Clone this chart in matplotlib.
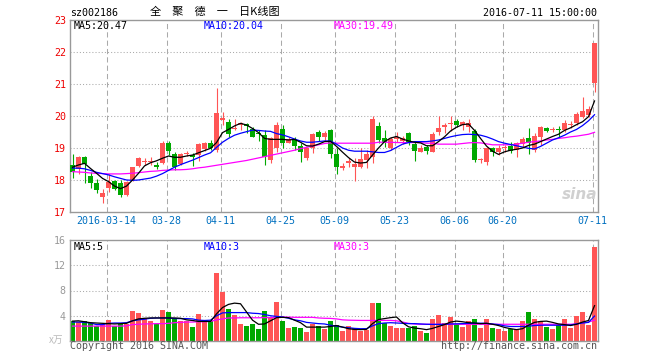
import matplotlib
matplotlib.use("Agg")
import matplotlib.pyplot as plt
import numpy as np
import pandas as pd

# Daily K-line of sz002186, 2016-03-04 .. 2016-07-11
HOLIDAYS = ["2016-04-04", "2016-05-02", "2016-06-09", "2016-06-10"]
TICK_DATES = ["2016-03-14", "2016-03-28", "2016-04-11", "2016-04-25", "2016-05-09",
              "2016-05-23", "2016-06-06", "2016-06-20", "2016-07-11"]

opens = [18.47, 18.33, 18.73, 18.13, 17.92, 17.46, 17.76, 17.98, 17.92, 17.53,
         18.00, 18.44, 18.56, 18.56, 18.47, 18.52, 19.15, 18.80, 18.49, 18.81,
         18.78, 18.78, 18.97, 19.16, 18.94, 19.87, 19.82, 19.60, 19.72, 19.74,
         19.58, 19.48, 19.41, 18.63, 18.99, 19.59, 19.17, 19.27, 19.06, 18.68,
         19.00, 19.51, 19.33, 19.56, 18.81, 18.39, 18.52, 18.42, 18.40, 18.63,
         18.71, 19.69, 19.30, 18.99, 19.27, 19.23, 19.48, 19.13, 18.89, 19.02,
         18.89, 19.51, 19.65, 19.74, 19.85, 19.72, 19.67, 19.53, 18.62, 18.57,
         18.99, 18.89, 19.00, 19.06, 18.94, 19.13, 19.30, 18.94, 19.35, 19.61,
         19.57, 19.59, 19.56, 19.72, 19.77, 19.96, 20.03, 21.04]
closes = [18.26, 18.73, 18.50, 17.92, 17.70, 17.58, 17.93, 17.71, 17.53, 17.93,
          18.40, 18.68, 18.59, 18.59, 18.40, 19.15, 18.92, 18.40, 18.80, 18.84,
          18.73, 19.11, 19.15, 18.99, 20.10, 19.93, 19.44, 19.64, 19.79, 19.70,
          19.35, 19.43, 18.71, 19.30, 19.72, 19.17, 19.27, 19.07, 18.89, 18.99,
          19.44, 19.35, 19.48, 18.81, 18.42, 18.41, 18.60, 18.50, 18.65, 18.81,
          19.90, 19.25, 19.20, 19.27, 19.33, 19.30, 19.15, 18.92, 18.99, 18.92,
          19.44, 19.61, 19.72, 19.77, 19.72, 19.82, 19.77, 18.63, 18.65, 18.99,
          18.86, 19.01, 19.02, 18.92, 19.15, 19.28, 19.15, 19.38, 19.66, 19.54,
          19.59, 19.57, 19.77, 19.75, 20.06, 20.15, 20.22, 22.27]
highs = [18.80, 18.75, 18.75, 18.25, 18.03, 17.72, 18.18, 18.00, 18.00, 17.98,
         18.42, 18.73, 18.70, 18.73, 18.57, 19.23, 19.23, 18.89, 18.85, 18.92,
         18.85, 19.15, 19.20, 19.25, 20.86, 20.14, 19.90, 19.90, 19.82, 19.79,
         19.67, 19.56, 19.56, 19.33, 19.81, 19.72, 19.35, 19.33, 19.15, 19.04,
         19.48, 19.56, 19.54, 19.58, 18.99, 18.52, 18.70, 18.68, 18.99, 18.94,
         20.00, 19.82, 19.56, 19.33, 19.51, 19.38, 19.51, 19.20, 19.09, 19.09,
         19.51, 20.00, 19.79, 20.00, 19.90, 19.85, 19.90, 19.58, 18.70, 19.04,
         19.04, 19.09, 19.09, 19.20, 19.20, 19.35, 19.61, 19.46, 19.70, 19.66,
         19.66, 19.70, 19.87, 19.85, 20.11, 20.60, 20.32, 22.27]
lows = [18.05, 18.20, 17.90, 17.74, 17.59, 17.29, 17.63, 17.69, 17.46, 17.51,
        17.98, 18.42, 18.48, 18.48, 18.33, 18.50, 18.78, 18.31, 18.47, 18.76,
        18.44, 18.60, 18.92, 18.93, 18.89, 19.72, 19.33, 19.56, 19.56, 19.48,
        19.33, 19.23, 18.47, 18.54, 18.89, 18.99, 19.15, 18.94, 18.57, 18.64,
        18.85, 19.23, 19.23, 18.70, 18.19, 18.30, 18.40, 17.98, 18.37, 18.37,
        18.54, 19.15, 19.04, 18.94, 19.20, 19.13, 19.09, 18.60, 18.86, 18.81,
        18.86, 19.40, 19.46, 19.53, 19.67, 19.56, 19.51, 18.57, 18.53, 18.47,
        18.76, 18.78, 18.88, 18.84, 18.73, 19.04, 18.80, 18.89, 19.09, 19.49,
        19.51, 19.30, 19.51, 19.64, 19.72, 19.93, 19.97, 20.76]
# volume in units of 10k lots (x万)
volumes = [3.10, 3.00, 3.10, 2.84, 2.36, 2.73, 3.26, 2.36, 2.73, 2.73,
           4.70, 4.38, 3.64, 3.21, 2.73, 4.86, 4.54, 3.42, 3.10, 3.21,
           2.20, 4.22, 3.10, 3.10, 10.75, 7.78, 5.02, 4.06, 2.63, 2.31,
           2.63, 1.83, 4.70, 3.80, 6.13, 3.10, 1.99, 2.20, 1.99, 1.35,
           2.73, 2.31, 1.83, 3.10, 2.47, 1.57, 2.31, 2.10, 1.57, 1.78,
           6.02, 6.02, 2.84, 2.31, 1.99, 1.99, 1.99, 2.31, 1.57, 1.19,
           3.42, 4.06, 2.84, 3.74, 2.73, 2.15, 3.10, 3.42, 1.99, 3.42,
           1.99, 1.83, 1.51, 1.94, 1.78, 3.10, 4.54, 3.42, 3.10, 2.15,
           1.83, 2.47, 3.42, 1.99, 3.90, 4.54, 2.47, 14.89]

# moving averages as drawn in the picture
ma5 = [18.40, 18.47, 18.52, 18.36, 18.21, 18.05, 17.95, 17.81, 17.73, 17.81,
       18.00, 18.21, 18.44, 18.54, 18.60, 18.68, 18.75, 18.71, 18.71, 18.75,
       18.78, 18.85, 18.92, 18.99, 19.17, 19.48, 19.58, 19.69, 19.77, 19.72,
       19.61, 19.48, 19.30, 19.27, 19.27, 19.27, 19.25, 19.27, 19.18, 19.07,
       19.06, 19.12, 19.20, 19.21, 19.05, 18.87, 18.70, 18.56, 18.53, 18.55,
       18.78, 19.00, 19.20, 19.31, 19.36, 19.28, 19.22, 19.18, 19.16, 19.07,
       19.07, 19.20, 19.35, 19.53, 19.65, 19.73, 19.75, 19.55, 19.30, 19.06,
       18.90, 18.80, 18.88, 18.93, 18.96, 19.00, 19.08, 19.12, 19.20, 19.28,
       19.36, 19.43, 19.55, 19.63, 19.73, 19.82, 19.98, 20.47]
ma10 = [18.37, 18.37, 18.35, 18.30, 18.24, 18.20, 18.16, 18.10, 18.05, 18.00,
        17.99, 18.00, 18.03, 18.06, 18.12, 18.20, 18.30, 18.40, 18.48, 18.55,
        18.62, 18.70, 18.78, 18.85, 19.02, 19.18, 19.30, 19.40, 19.46, 19.51,
        19.56, 19.55, 19.53, 19.52, 19.45, 19.41, 19.35, 19.28, 19.22, 19.18,
        19.18, 19.20, 19.22, 19.22, 19.12, 19.00, 18.93, 18.90, 18.90, 18.90,
        18.88, 18.86, 18.86, 18.92, 19.02, 19.12, 19.17, 19.20, 19.20, 19.20,
        19.22, 19.25, 19.30, 19.35, 19.39, 19.42, 19.43, 19.42, 19.40, 19.35,
        19.28, 19.20, 19.15, 19.11, 19.07, 19.03, 18.99, 18.97, 19.05, 19.15,
        19.25, 19.32, 19.40, 19.50, 19.58, 19.70, 19.85, 20.04]
ma30 = [18.26, 18.25, 18.24, 18.22, 18.21, 18.20, 18.19, 18.19, 18.19, 18.20,
        18.21, 18.23, 18.25, 18.27, 18.28, 18.30, 18.31, 18.32, 18.32, 18.33,
        18.35, 18.38, 18.40, 18.43, 18.46, 18.49, 18.52, 18.55, 18.58, 18.61,
        18.65, 18.69, 18.73, 18.77, 18.81, 18.85, 18.89, 18.93, 18.98, 19.02,
        19.06, 19.10, 19.14, 19.16, 19.15, 19.15, 19.15, 19.15, 19.15, 19.15,
        19.15, 19.18, 19.18, 19.18, 19.17, 19.17, 19.17, 19.17, 19.17, 19.15,
        19.15, 19.12, 19.12, 19.12, 19.12, 19.14, 19.16, 19.17, 19.16, 19.13,
        19.10, 19.10, 19.10, 19.10, 19.12, 19.15, 19.18, 19.20, 19.22, 19.25,
        19.27, 19.30, 19.32, 19.35, 19.37, 19.40, 19.43, 19.49]
vol_ma5 = [3.15, 3.20, 3.05, 2.90, 2.85, 2.80, 2.75, 2.70, 2.75, 2.80,
           3.20, 3.50, 3.60, 3.65, 3.65, 3.65, 3.65, 3.65, 3.60, 3.35,
           3.25, 3.10, 3.10, 3.10, 4.30, 5.30, 5.80, 6.00, 5.90, 4.60,
           3.30, 2.65, 2.70, 3.20, 3.70, 3.75, 3.70, 3.30, 2.90, 2.20,
           2.20, 2.20, 2.20, 2.30, 2.45, 2.20, 1.95, 1.83, 1.80, 1.85,
           2.75, 3.40, 3.55, 3.70, 3.80, 2.90, 2.25, 2.05, 1.95, 1.80,
           2.00, 2.30, 2.60, 3.00, 3.15, 3.05, 2.90, 2.85, 2.75, 2.80,
           2.65, 2.45, 2.15, 1.95, 1.80, 1.95, 2.50, 2.95, 3.10, 3.15,
           2.95, 2.70, 2.60, 2.45, 2.65, 3.00, 3.25, 5.60]
vol_ma10 = [3.00, 3.00, 2.95, 2.85, 2.60, 2.60, 2.80, 2.85, 2.85, 2.90,
            3.20, 3.35, 3.45, 3.60, 3.65, 3.65, 3.65, 3.55, 3.55, 3.55,
            3.50, 3.30, 3.25, 3.30, 4.00, 4.45, 4.50, 4.50, 4.50, 4.50,
            4.40, 4.35, 4.20, 4.00, 3.90, 3.80, 3.60, 3.35, 3.20, 2.95,
            2.85, 2.75, 2.70, 2.50, 2.35, 2.20, 2.10, 2.00, 1.95, 1.95,
            2.40, 2.75, 2.85, 2.90, 2.85, 2.80, 2.75, 2.75, 2.70, 2.65,
            2.63, 2.63, 2.65, 2.70, 2.72, 2.75, 2.80, 2.80, 2.82, 2.80,
            2.70, 2.60, 2.40, 2.30, 2.30, 2.30, 2.35, 2.45, 2.50, 2.50,
            2.50, 2.50, 2.50, 2.55, 2.70, 2.85, 2.95, 3.95]
vol_ma30 = [2.36, 2.36, 2.36, 2.36, 2.36, 2.36, 2.36, 2.36, 2.36, 2.40,
            2.60, 2.65, 2.70, 2.72, 2.75, 2.75, 2.80, 2.90, 2.95, 3.00,
            3.00, 3.05, 3.05, 3.10, 3.35, 3.50, 3.65, 3.65, 3.68, 3.68,
            3.68, 3.68, 3.70, 3.70, 3.75, 3.80, 3.78, 3.75, 3.75, 3.75,
            3.75, 3.65, 3.60, 3.58, 3.50, 3.35, 3.30, 3.28, 3.26, 3.26,
            3.26, 3.26, 3.26, 3.26, 3.20, 3.00, 2.80, 2.70, 2.65, 2.65,
            2.65, 2.65, 2.65, 2.65, 2.65, 2.65, 2.65, 2.65, 2.65, 2.65,
            2.65, 2.65, 2.65, 2.65, 2.65, 2.65, 2.65, 2.65, 2.65, 2.65,
            2.65, 2.65, 2.65, 2.65, 2.70, 2.85, 3.00, 3.30]

RED = "#ff5555"
GREEN = "#00a800"
FRAME = "#999999"
GRID = "#aaaaaa"
MONO = "DejaVu Sans Mono"
CJK = ["Noto Sans CJK SC", "DejaVu Sans"]
W, H = 660, 360


def fx(px):
    return px / W


def fy(py):
    return 1 - py / H


def style_panel(ax, grid_y, tick_pos):
    for sp in ax.spines.values():
        sp.set_color(FRAME)
        sp.set_linewidth(1.0)
    for y in grid_y:
        ax.axhline(y, color=GRID, lw=0.75, dashes=(1, 2), zorder=0)
    for x in tick_pos:
        ax.axvline(x, color=GRID, lw=0.75, dashes=(5, 3), zorder=0)
    ax.tick_params(length=0, pad=3, labelsize=7.2)


# trading calendar -> bar index for date labels
days = pd.bdate_range("2016-03-04", "2016-07-11")
days = days[~days.isin(pd.to_datetime(HOLIDAYS))]
idx = np.arange(len(days))
tick_idx = [days.get_loc(pd.Timestamp(d)) - 0.33 for d in TICK_DATES]
tick_lab = [TICK_DATES[0]] + [d[5:] for d in TICK_DATES[1:]]

o, c = np.array(opens), np.array(closes)
colors = np.where(c >= o, RED, GREEN)

fig = plt.figure(figsize=(W / 100, H / 100), dpi=100)
ax = fig.add_axes([fx(70), fy(212), fx(528), 192 / H])
vax = fig.add_axes([fx(70), fy(341), fx(528), 101 / H])

# price panel
style_panel(ax, [18, 19, 20, 21, 22], tick_idx)
ax.vlines(idx, lows, highs, colors=colors, lw=0.8, zorder=2)
ax.bar(idx, np.maximum(np.abs(c - o), 0.035), bottom=np.minimum(o, c),
       width=0.82, color=colors, lw=0, zorder=3)
ax.plot(idx, ma30, color="#ff00ff", lw=0.9, zorder=4)
ax.plot(idx, ma10, color="#0000ff", lw=0.9, zorder=4)
ax.plot(idx, ma5, color="black", lw=0.9, zorder=4)
ax.set_xlim(-0.42, len(idx) - 0.42)
ax.set_ylim(17, 23)
ax.set_yticks(range(17, 24))
ax.set_yticklabels([str(v) for v in range(17, 24)], color="#ee0000", family=MONO)
ax.set_xticks(tick_idx)
ax.set_xticklabels(tick_lab, color="#0070c0", family=MONO)
ax.text(0.965, 0.09, "sina", transform=ax.transAxes, ha="center", va="center",
        fontsize=11, fontstyle="italic", fontweight="bold", color="#d0d0d0", zorder=1)

# volume panel
style_panel(vax, [4, 8, 12], tick_idx)
vax.bar(idx, volumes, width=0.82, color=colors, lw=0, zorder=2)
vax.plot(idx, vol_ma30, color="#ff00ff", lw=0.9, zorder=4)
vax.plot(idx, vol_ma10, color="#0000ff", lw=0.9, zorder=4)
vax.plot(idx, vol_ma5, color="black", lw=0.9, zorder=4)
vax.set_xlim(ax.get_xlim())
vax.set_ylim(0, 16)
vax.set_yticks([4, 8, 12, 16])
vax.set_yticklabels(["4", "8", "12", "16"], color=FRAME, family=MONO)
vax.set_xticks([])

# header and labels
fig.text(fx(70), fy(13), "sz002186", family=MONO, fontsize=7.2, va="center")
fig.text(fx(150), fy(12), "全\u3000聚\u3000德\u3000一\u3000日K线图", family=CJK,
         fontsize=8, va="center")
fig.text(fx(597), fy(13), "2016-07-11 15:00:00", family=MONO, fontsize=7.2,
         va="center", ha="right")
for x, txt, col in [(74, f"MA5:{ma5[-1]:.2f}", "black"),
                    (204, f"MA10:{ma10[-1]:.2f}", "#0000ff"),
                    (334, f"MA30:{ma30[-1]:.2f}", "#ff00ff")]:
    fig.text(fx(x), fy(26), txt, family=MONO, fontsize=7.2, va="center", color=col)
for x, txt, col in [(74, f"MA5:{int(vol_ma5[-1])}", "black"),
                    (204, f"MA10:{int(vol_ma10[-1])}", "#0000ff"),
                    (334, f"MA30:{int(vol_ma30[-1])}", "#ff00ff")]:
    fig.text(fx(x), fy(247), txt, family=MONO, fontsize=7.2, va="center", color=col)
fig.text(fx(63), fy(340), "x万", family=CJK, fontsize=7, va="center", ha="right",
         color="#bbbbbb", fontstyle="italic")
fig.text(fx(70), fy(346), "Copyright 2016 SINA.COM", family=MONO, fontsize=7.2,
         va="center", color="#555555")
fig.text(fx(597), fy(346), "http://finance.sina.com.cn", family=MONO, fontsize=7.2,
         va="center", ha="right", color="#555555")

fig.savefig("out.png", dpi=100)
